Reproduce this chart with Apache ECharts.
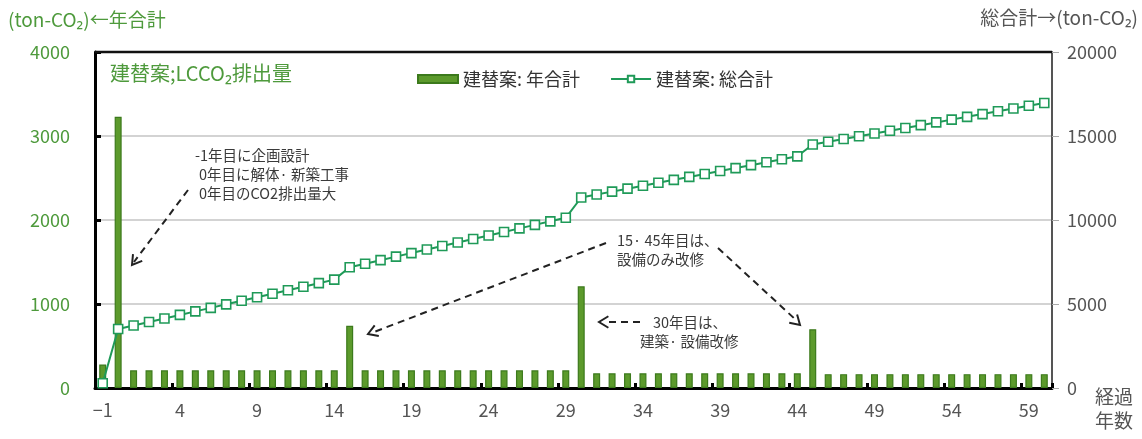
<!DOCTYPE html>
<html><head><meta charset="utf-8">
<script src="https://cdn.jsdelivr.net/npm/echarts@6/dist/echarts.min.js"></script>
<style>html,body{margin:0;padding:0;background:#fff;}#c{width:1142px;height:439px;}</style>
</head><body><div id="c"></div>
<script>
var years = [-1,0,1,2,3,4,5,6,7,8,9,10,11,12,13,14,15,16,17,18,19,20,21,22,23,24,25,26,27,28,29,30,31,32,33,34,35,36,37,38,39,40,41,42,43,44,45,46,47,48,49,50,51,52,53,54,55,56,57,58,59,60];
var annualTotal = [280,3230,
  210,210,210,210,210,210,210,210,210,210,210,210,210,210,
  740,
  210,210,210,210,210,210,210,210,210,210,210,210,210,210,
  1210,
  175,175,175,175,175,175,175,175,175,175,175,175,175,175,
  700,
  165,165,165,165,165,165,165,165,165,165,165,165,165,165,165];
var cumulativeTotal = [280,3510,
  3720,3930,4140,4350,4560,4770,4980,5190,5400,5610,5820,6030,6240,6450,
  7190,
  7400,7610,7820,8030,8240,8450,8660,8870,9080,9290,9500,9710,9920,10130,
  11340,
  11515,11690,11865,12040,12215,12390,12565,12740,12915,13090,13265,13440,13615,13790,
  14490,
  14655,14820,14985,15150,15315,15480,15645,15810,15975,16140,16305,16470,16635,16800,16965];
var leftTicks = [0,1000,2000,3000,4000];
var rightTicks = [0,5000,10000,15000,20000];

var FONT = '"Noto Sans CJK JP", "Noto Sans", sans-serif';
var GREEN_TXT = '#4e9a3c';
var GRAY_TXT = '#555555';
var NOTE_TXT = '#3a3a3a';
var BAR_FILL = '#5c9a2c';
var BAR_EDGE = '#3c7a1c';
var LINE_C = '#1f9a58';

var chart = echarts.init(document.getElementById('c'), null, {renderer:'canvas'});

function dash(x1,y1,x2,y2){
  return {type:'line', shape:{x1:x1,y1:y1,x2:x2,y2:y2}, style:{stroke:'#222', lineWidth:2, lineDash:[7,5]}, z:10};
}
function head(x,y,ang){
  var l=11, a=0.55;
  var p1=[x - l*Math.cos(ang-a), y - l*Math.sin(ang-a)];
  var p2=[x - l*Math.cos(ang+a), y - l*Math.sin(ang+a)];
  return {type:'polyline', shape:{points:[p1,[x,y],p2]}, style:{stroke:'#222', lineWidth:2, fill:null}, z:10};
}
function txt(x,y,s,color,size){
  return {type:'text', x:x, y:y, style:{text:s, fill:color||NOTE_TXT, font:(size||14)+'px '+FONT, textVerticalAlign:'middle'}, z:10};
}
function plain(v){ return String(v).replace('-', '\u2212'); }

var option = {
  animation:false,
  backgroundColor:'#fff',
  textStyle:{fontFamily:FONT},
  grid:{left:95, right:90, top:52, bottom:51, containLabel:false},
  legend:{
    top:65, left:412, itemGap:30, itemWidth:40, itemHeight:8,
    textStyle:{fontSize:18, color:'#333', fontFamily:FONT},
    data:[
      {name:'建替案: 年合計', icon:'rect'},
      {name:'建替案: 総合計'}
    ]
  },
  xAxis:{
    type:'category', data:years, boundaryGap:true,
    axisLine:{lineStyle:{color:'#000', width:3}},
    axisTick:{show:true, interval:4, inside:true, length:5, lineStyle:{color:'#000', width:3}},
    axisLabel:{interval:4, color:GRAY_TXT, fontSize:18, margin:13, fontFamily:FONT, formatter:plain},
    splitLine:{show:false}
  },
  yAxis:[
    {type:'value', min:leftTicks[0], max:leftTicks[leftTicks.length-1], interval:1000, position:'left',
      axisLine:{show:true, lineStyle:{color:'#000', width:3}},
      axisTick:{show:true, inside:true, length:6, lineStyle:{color:'#000', width:3}},
      axisLabel:{color:GREEN_TXT, fontSize:18, margin:25, fontFamily:FONT, formatter:plain},
      splitLine:{show:true, lineStyle:{color:'#c4c4c4', width:1.5}}
    },
    {type:'value', min:rightTicks[0], max:rightTicks[rightTicks.length-1], interval:5000, position:'right',
      axisLine:{show:true, lineStyle:{color:'#555', width:2}},
      axisTick:{show:true, inside:false, length:7, lineStyle:{color:'#aaa', width:1}},
      axisLabel:{color:GRAY_TXT, fontSize:18, margin:15, fontFamily:FONT, formatter:plain},
      splitLine:{show:false}
    }
  ],
  series:[
    {name:'建替案: 年合計', type:'bar', yAxisIndex:0, data:annualTotal, barWidth:7,
      itemStyle:{color:BAR_FILL, borderColor:BAR_EDGE, borderWidth:1.2}, z:2},
    {name:'建替案: 総合計', type:'line', yAxisIndex:1, data:cumulativeTotal,
      symbol:'rect', symbolSize:9, showAllSymbol:true,
      lineStyle:{color:LINE_C, width:2},
      itemStyle:{color:'#fff', borderColor:LINE_C, borderWidth:1.6}, z:3}
  ],
  graphic:[
    {type:'line', shape:{x1:95, y1:52, x2:1052, y2:52}, style:{stroke:'#111', lineWidth:2.5}, z:5},
    txt(8, 20, '(ton-CO\u2082)\u2190年合計', GREEN_TXT, 19),
    {type:'text', right:4, top:8, style:{text:'総合計\u2192(ton-CO\u2082)', fill:GRAY_TXT, font:'19px '+FONT}, z:10},
    {type:'text', left:1095, top:385, style:{text:'経過\n年数', fill:GRAY_TXT, font:'19px '+FONT, lineHeight:24}, z:10},
    txt(110, 73, '建替案;LCCO\u2082排出量', GREEN_TXT, 20),
    txt(195, 155, '-1年目に企画設計', NOTE_TXT, 14.5),
    txt(199, 174, '0年目に解体· 新築工事', NOTE_TXT, 14.5),
    txt(199, 193, '0年目のCO2排出量大', NOTE_TXT, 14.5),
    dash(188, 190, 134, 262), head(132, 265, Math.atan2(265-190, 132-188)),
    txt(617, 240, '15· 45年目は、', NOTE_TXT, 14.5),
    txt(617, 259, '設備のみ改修', NOTE_TXT, 14.5),
    dash(606, 243, 374, 332), head(368, 334, Math.atan2(334-243, 368-606)),
    dash(718, 248, 796, 320), head(800, 325, Math.atan2(325-248, 800-718)),
    txt(653, 322, '30年目は、', NOTE_TXT, 14.5),
    txt(640, 341, '建築· 設備改修', NOTE_TXT, 14.5),
    dash(640, 322, 606, 322), head(599, 322, Math.PI)
  ]
};
chart.setOption(option);
</script>
</body></html>
